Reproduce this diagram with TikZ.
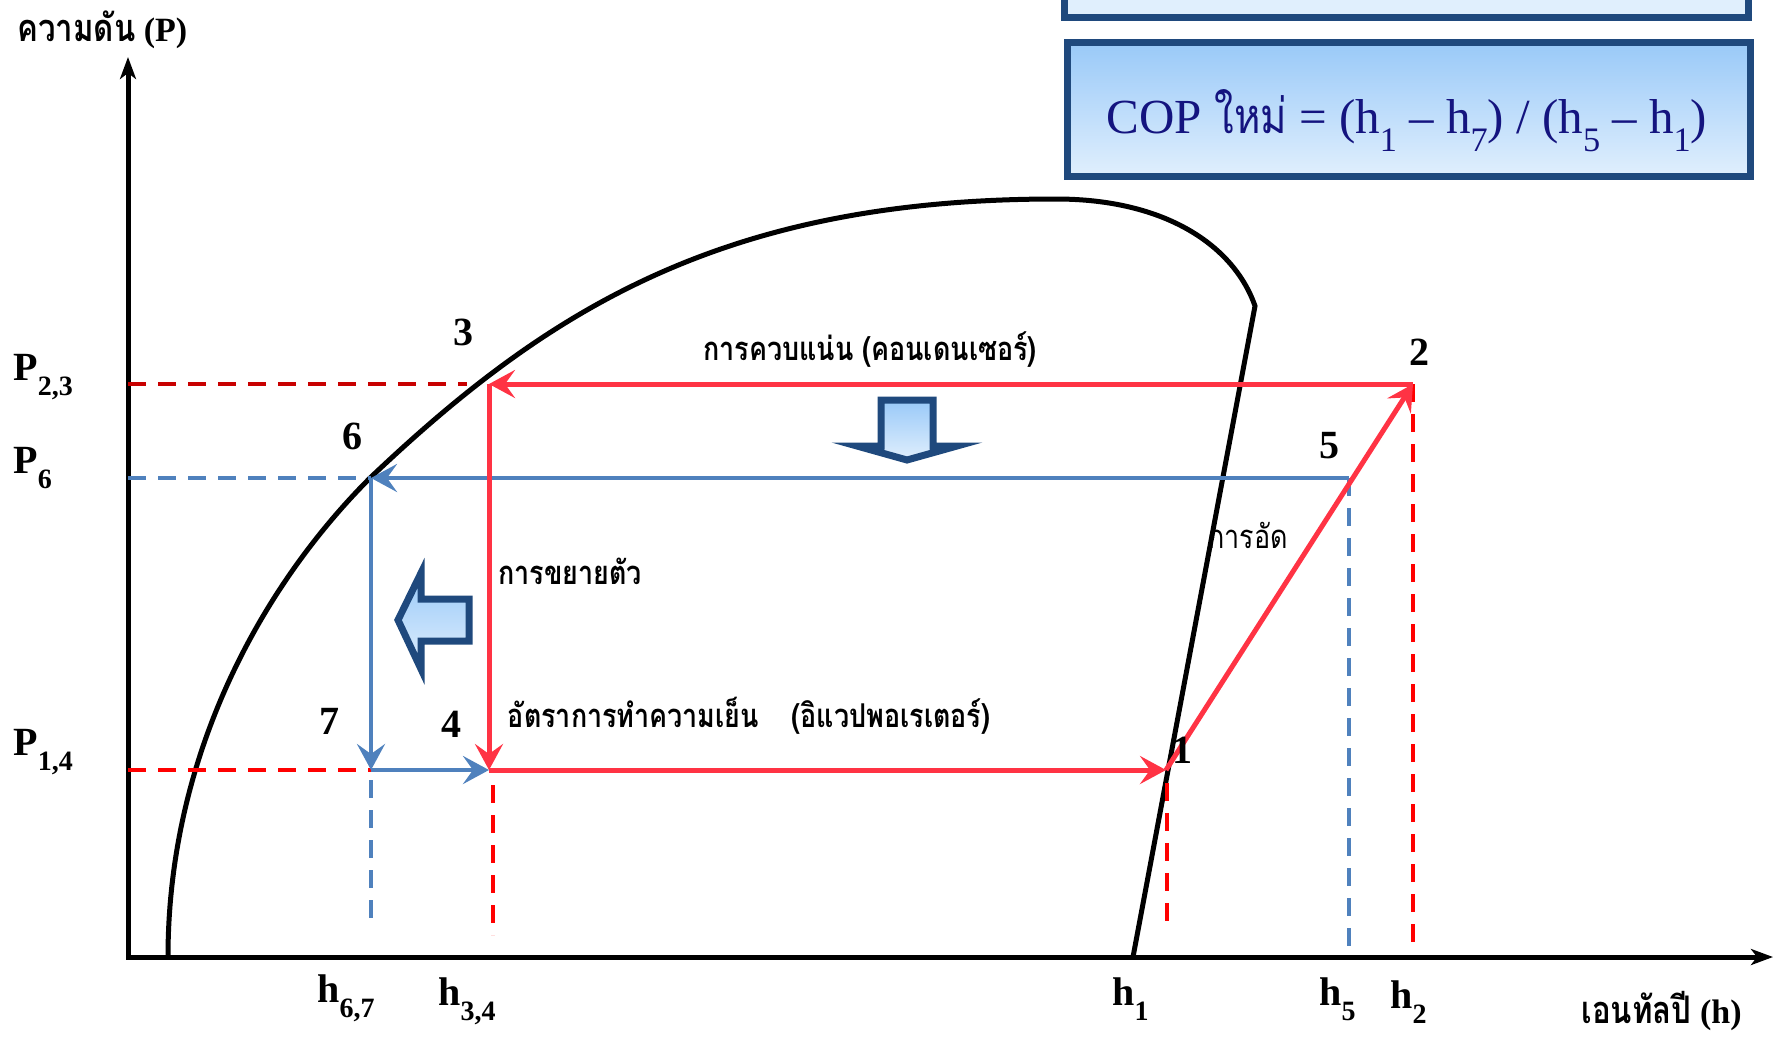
\documentclass[tikz,border=0pt]{standalone}
\usepackage{fontspec}
\setmainfont{Liberation Serif}
\newfontfamily\thaifont[Script=Thai, FakeStretch=0.82]{Loma}
\usetikzlibrary{arrows.meta,positioning}
\definecolor{ink}{HTML}{000000}
\definecolor{cyclered}{HTML}{FF3344}
\definecolor{dashred}{HTML}{FF0000}
\definecolor{darkred}{HTML}{C80000}
\definecolor{cycleblue}{HTML}{4F81BD}
\definecolor{navy}{HTML}{1F497D}
\definecolor{copink}{HTML}{14147F}
\definecolor{skytop}{HTML}{99C9F8}
\definecolor{skybot}{HTML}{E0EFFD}
\newcommand{\lowsub}[1]{\raisebox{-0.38em}{\scalebox{0.7}{#1}}}
\tikzset{
  axisline/.style={{Stealth[length=11pt,width=8pt,inset=3pt]}-{Stealth[length=11pt,width=8pt,inset=3pt]}, line width=2.5pt, draw=ink},
  dome/.style={line width=2.5pt, draw=ink},
  redarrow/.style={-{Stealth[length=13pt,width=14pt,inset=5pt]}, line width=2.5pt, draw=cyclered},
  bluearrow/.style={-{Stealth[length=13pt,width=14pt,inset=5pt]}, line width=2pt, draw=cycleblue},
  reddash/.style={line width=2pt, draw=dashred, dash pattern=on 9pt off 6pt},
  bluedash/.style={line width=2pt, draw=cycleblue, dash pattern=on 9pt off 6pt},
  num/.style={font=\fontsize{20pt}{22pt}\selectfont\bfseries, text=ink, inner sep=0pt},
  thailabel/.style={font=\fontsize{16.4pt}{19pt}\selectfont\thaifont\bfseries, text=ink, inner sep=0pt},
  axislabel/.style={font=\fontsize{17pt}{20pt}\selectfont\bfseries, text=ink, inner sep=0pt},
  blockarrow/.style={draw=navy, line width=3.5pt, line join=miter, top color=skytop, bottom color=skybot},
  copbox/.style={draw=navy, line width=3.5pt, top color=skytop, bottom color=skybot, minimum width=341.5pt, minimum height=67pt, inner sep=0pt},
  oldbox/.style={draw=navy, line width=3.5pt, fill=skybot, minimum width=342pt, minimum height=30pt, inner sep=0pt},
  coptext/.style={font=\fontsize{24.5pt}{28pt}\selectfont, text=copink, inner sep=0pt}
}
\begin{document}
\begin{tikzpicture}[x=0.5pt, y=-0.5pt]
\useasboundingbox (0,0) rectangle (1780,1039);
% COP boxes
\node[oldbox] (oldcop) at (1406,-13) {};
\node[copbox] (copbox) at (1409,109) {};
\node[coptext, anchor=base] (cop) at (1407,133) {COP {\thaifont ใหม่} = (h\lowsub{1} \textendash\ h\lowsub{7}) / (h\lowsub{5} \textendash\ h\lowsub{1})};
% axes
\coordinate (O) at (128,957);
\coordinate (ytip) at (128,57);
\coordinate (xtip) at (1773,957);
\draw[axisline] (ytip) -- (O) -- (xtip);
\node[axislabel, anchor=west] (ylab) at (17,30) {{\thaifont\fontsize{19pt}{21pt}\selectfont ความดัน} (P)};
\node[axislabel, anchor=east] (xlab) at (1742,1011) {{\thaifont\fontsize{19pt}{21pt}\selectfont เอนทัลปี} (h)};
% saturation dome
\draw[dome] (168,957) .. controls (168,757) and (260,588) .. (370,478)
  .. controls (550,307) and (726,199) .. (1056,199)
  .. controls (1166,199) and (1234,246) .. (1255,306) -- (1133,957);
% cycle points
\coordinate (p1) at (1166,770);
\coordinate (p2) at (1413,384);
\coordinate (p3) at (489,384);
\coordinate (p4) at (489,770);
\coordinate (p5) at (1349,478);
\coordinate (p6) at (371,478);
\coordinate (p7) at (371,770);
% guide lines
\coordinate (P23) at (128,384);
\coordinate (sat3) at (467,384);
\coordinate (P6) at (128,478);
\coordinate (P14) at (128,770);
\coordinate (g7a) at (371,780);
\coordinate (g7b) at (371,928);
\coordinate (g4a) at (493,785);
\coordinate (g4b) at (493,935);
\coordinate (g1a) at (1167,783);
\coordinate (g1b) at (1167,932);
\coordinate (g5) at (1349,948);
\coordinate (g2) at (1413,951);
\draw[reddash, draw=darkred] (P23) -- (sat3);
\draw[bluedash] (P6) -- (p6);
\draw[reddash] (P14) -- (p7);
\draw[bluedash] (g7a) -- (g7b);
\draw[reddash] (g4a) -- (g4b);
\draw[reddash] (g1a) -- (g1b);
\draw[bluedash] (p5) -- (g5);
\draw[reddash] (p2) -- (g2);
% new cycle
\draw[bluearrow] (p5) -- (p6);
\draw[bluearrow] (p6) -- (p7);
\draw[bluearrow] (p7) -- (p4);
% old cycle
\draw[redarrow] (p2) -- (p3);
\draw[redarrow] (p3) -- (p4);
\draw[redarrow] (p4) -- (p1);
\draw[redarrow] (p1) -- (p2);
% block arrows
\draw[blockarrow] (881,400) -- (933,400) -- (933,446) -- (957,446) -- (907,460) -- (857,446) -- (881,446) -- cycle;
\draw[blockarrow] (469,599) -- (421,599) -- (421,573) -- (398,620) -- (421,669) -- (421,641) -- (469,641) -- cycle;
% point numbers
\node[num] (n1) at (1182,750) {1};
\node[num] (n2) at (1419,352) {2};
\node[num] (n3) at (463,332) {3};
\node[num] (n4) at (451,724) {4};
\node[num] (n5) at (1329,446) {5};
\node[num] (n6) at (352,436) {6};
\node[num] (n7) at (329,721) {7};
% pressure and enthalpy ticks
\node[num, anchor=base west] (lP23) at (13,380) {P\lowsub{2,3}};
\node[num, anchor=base west] (lP6) at (13,473) {P\lowsub{6}};
\node[num, anchor=base west] (lP14) at (13,755) {P\lowsub{1,4}};
\node[num, anchor=base west] (lh67) at (317,1002) {h\lowsub{6,7}};
\node[num, anchor=base west] (lh34) at (438,1005) {h\lowsub{3,4}};
\node[num, anchor=base west] (lh1) at (1112,1005) {h\lowsub{1}};
\node[num, anchor=base west] (lh5) at (1319,1005) {h\lowsub{5}};
\node[num, anchor=base west] (lh2) at (1390,1008) {h\lowsub{2}};
% process labels
\node[thailabel] (cond) at (870,350) {การควบแน่น (คอนเดนเซอร์)};
\node[thailabel] (expn) at (570,571) {การขยายตัว};
\node[thailabel] (evap) at (749,716) {อัตราการทำความเย็น\hspace{1em}(อิแวปพอเรเตอร์)};
\node[thailabel, font=\fontsize{16.4pt}{19pt}\selectfont\thaifont] (comp) at (1248,535) {การอัด};
\end{tikzpicture}
\end{document}
